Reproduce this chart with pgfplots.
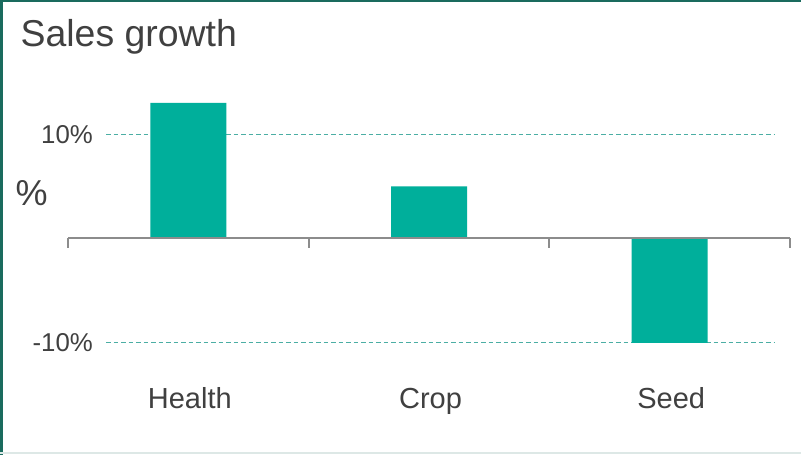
\documentclass[border=0pt]{standalone}
\usepackage{pgfplots}
\pgfplotsset{compat=1.18}
\usepackage{fontspec}
\setmainfont{Liberation Sans}
\definecolor{barc}{HTML}{00AF9B}
\definecolor{gridc}{HTML}{4BAEA4}
\definecolor{txt}{HTML}{404040}
\definecolor{axc}{HTML}{8C8C8C}
\definecolor{framec}{HTML}{1A6B5E}
\definecolor{framel}{HTML}{DDE8E6}
\begin{document}
\begin{tikzpicture}
\useasboundingbox (0,0) rectangle (801bp,455bp);
\fill[white] (0,0) rectangle (801bp,455bp);
\begin{axis}[
  at={(68bp,46.5bp)}, anchor=south west,
  scale only axis, width=722bp, height=347.3bp,
  xmin=-0.5, xmax=2.5, ymin=-16.30, ymax=17,
  axis line style={draw=none},
  xtick={0,1,2}, xticklabels={Health,Crop,Seed},
  ytick={-10,10}, yticklabels={-10\%,10\%},
  major tick length=0pt,
  xticklabel style={anchor=base, inner sep=0pt, xshift=1.5bp, font=\fontsize{29bp}{31bp}\selectfont, text=txt},
  yticklabel style={anchor=east, inner sep=0pt, xshift=25bp, font=\fontsize{25.8bp}{27bp}\selectfont, text=txt},
  clip=false,
]
\addplot[gridc, line width=1.4bp, dash pattern=on 4.5bp off 3bp] coordinates {(-0.342,10) (2.438,10)};
\addplot[gridc, line width=1.4bp, dash pattern=on 4.5bp off 3bp] coordinates {(-0.342,-10) (2.438,-10)};
\addplot[ybar, bar width=76bp, bar shift=0pt, fill=barc, draw=none] coordinates {(0,13) (1,5) (2,-10)};
\addplot[axc, line width=2bp] coordinates {(-0.5,0) (2.5,0)};
\addplot[axc, line width=1.8bp] coordinates {(-0.5,0) (-0.5,-0.95)};
\addplot[axc, line width=1.8bp] coordinates {(0.5,0) (0.5,-0.95)};
\addplot[axc, line width=1.8bp] coordinates {(1.5,0) (1.5,-0.95)};
\addplot[axc, line width=1.8bp] coordinates {(2.5,0) (2.5,-0.95)};
\end{axis}
\node[anchor=base west, inner sep=0pt, text=txt, font=\fontsize{37.4bp}{40bp}\selectfont] at (20.5bp,408.5bp) {Sales growth};
\node[anchor=center, inner sep=0pt, text=txt, font=\fontsize{36bp}{38bp}\selectfont] at (31.7bp,262bp) {\%};
\draw[framec, line width=2.5bp] (0,453.75bp) -- (801bp,453.75bp);
\draw[framec, line width=2bp] (1.5bp,0) -- (1.5bp,455bp);
\draw[framel, line width=2bp] (0,2bp) -- (801bp,2bp);
\end{tikzpicture}
\end{document}
